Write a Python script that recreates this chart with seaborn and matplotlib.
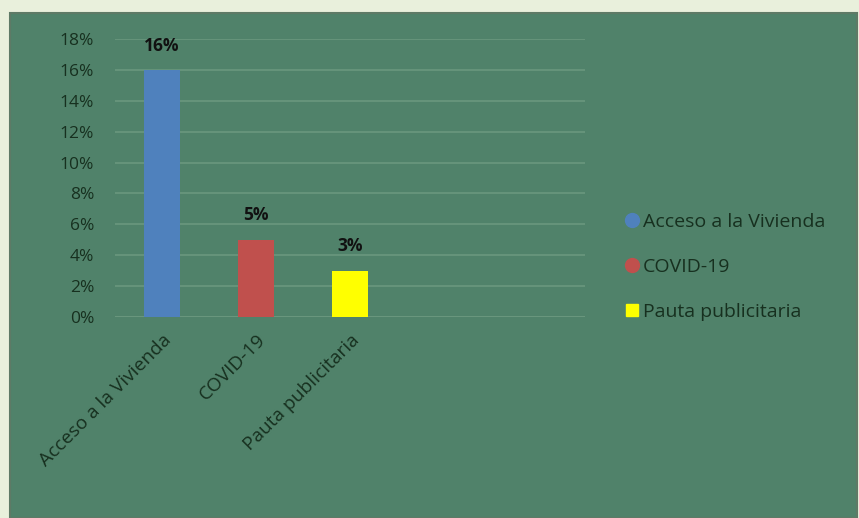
import matplotlib
matplotlib.use("Agg")
import matplotlib.pyplot as plt
import matplotlib.patches as mpatches
from matplotlib.lines import Line2D
import seaborn as sns
import pandas as pd

# data
categories = ["Acceso a la Vivienda", "COVID-19", "Pauta publicitaria"]
values = [16, 5, 3]
colors = ["#4F81BD", "#C0504D", "#FFFF00"]
yticks = [0, 2, 4, 6, 8, 10, 12, 14, 16, 18]

panel = "#50826A"
grid = "#6A977E"
text_col = "#17301F"

df = pd.DataFrame({"cat": categories, "val": values})

sns.set_style("white")
plt.rcParams["font.family"] = ["Open Sans", "DejaVu Sans"]

W, H = 859, 518
fig = plt.figure(figsize=(W / 100, H / 100), dpi=100)
fig.patch.set_facecolor("#E9F0DC")
fig.patches.append(mpatches.Rectangle((10 / W, 0), 847 / W, 1 - 13 / H,
                                      transform=fig.transFigure, facecolor=panel,
                                      edgecolor="#5E7A66", lw=1.5, zorder=-5))

ax = fig.add_axes([115 / W, 1 - 317 / H, 470 / W, (317 - 39) / H])
ax.set_zorder(2)
ax.set_facecolor(panel)
sns.barplot(data=df, x="cat", y="val", hue="cat", palette=colors, dodge=False,
            legend=False, width=0.385, ax=ax, zorder=3, saturation=1,
            linewidth=0)

ax.set_xlim(-0.5, 4.5)
ax.set_ylim(0, 18)
ax.set_yticks(yticks)
ax.set_yticklabels([f"{t}%" for t in yticks], color=text_col, fontsize=12.5)
ax.set_xticks(range(len(categories)))
ax.set_xticklabels(categories, rotation=45, ha="right", rotation_mode="anchor",
                   color=text_col, fontsize=13.8)
ax.tick_params(axis="y", length=0, pad=15)
ax.tick_params(axis="x", length=0, pad=10)
ax.set_xlabel("")
ax.set_ylabel("")
ax.grid(axis="y", color=grid, lw=1.2, zorder=1)
ax.set_axisbelow(True)
for s in ax.spines.values():
    s.set_visible(False)
ax.axhline(0, color=grid, lw=1.2, zorder=2)

for i, v in enumerate(values):
    ax.annotate(f"{v}%", (i, v), xytext=(0, 11), textcoords="offset points",
                ha="center", va="bottom", fontsize=12.5, fontweight="bold",
                color="#111111")

handles = [
    Line2D([], [], marker="o", ls="", color=colors[0], markersize=10),
    Line2D([], [], marker="o", ls="", color=colors[1], markersize=10),
    Line2D([], [], marker="s", ls="", color=colors[2], markersize=9),
]
leg = fig.legend(handles, categories, loc="center left",
                 bbox_to_anchor=(605 / W, 1 - 267 / H), frameon=False,
                 fontsize=14, handletextpad=0.05, labelspacing=1.38,
                 handlelength=1.0)
for t in leg.get_texts():
    t.set_color(text_col)

fig.savefig("out.png", dpi=100, facecolor=fig.get_facecolor())
